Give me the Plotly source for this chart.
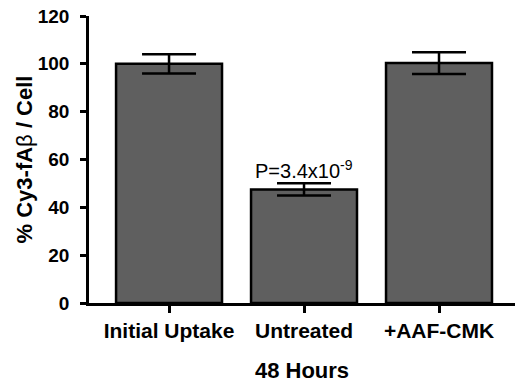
import plotly.graph_objects as go

categories = ["Initial Uptake", "Untreated", "+AAF-CMK"]
values = [100, 47.5, 100.3]
errors = [4, 2.6, 4.5]
y_ticks = [0, 20, 40, 60, 80, 100, 120]

FONT = "Liberation Sans, Arial, sans-serif"

fig = go.Figure()
fig.add_trace(go.Bar(
    x=categories, y=values, width=0.785,
    marker=dict(color="#5f5f5f", line=dict(color="black", width=2.5)),
    error_y=dict(type="data", array=errors, visible=True, color="black",
                 thickness=2.5, width=27),
))

fig.add_annotation(x=1, y=56, text="P=3.4x10<sup>-9</sup>", showarrow=False,
                   xref="x", yref="y",
                   font=dict(family=FONT, size=20, color="black"))

fig.update_layout(
    width=515, height=386,
    margin=dict(l=89, r=0, t=16, b=83),
    plot_bgcolor="white", paper_bgcolor="white",
    showlegend=False,
    font=dict(family=FONT, color="black"),
)
fig.update_xaxes(
    type="category", range=[-0.593, 2.563],
    showline=True, linecolor="black", linewidth=2.5,
    ticks="outside", ticklen=7, tickwidth=2.5, tickcolor="black",
    tickvals=categories, ticktext=[f"<b>{c}</b>" for c in categories],
    tickfont=dict(family=FONT, size=21, color="black"),
    title=dict(text="<b>48 Hours</b>", font=dict(family=FONT, size=22, color="black"), standoff=22),
    showgrid=False, zeroline=False,
)
fig.update_yaxes(
    range=[0, 120], tickvals=y_ticks, ticktext=[f"<b>{v}</b>" for v in y_ticks],
    showline=True, linecolor="black", linewidth=2.5,
    ticks="outside", ticklen=6, tickwidth=2.5, tickcolor="black",
    ticklabelstandoff=7,
    tickfont=dict(family=FONT, size=19, color="black"),
    title=dict(text="<b>% Cy3-fA</b>β<b> / Cell</b>", font=dict(family=FONT, size=22, color="black"), standoff=0),
    showgrid=False, zeroline=False,
)

fig.write_html("out.html")
